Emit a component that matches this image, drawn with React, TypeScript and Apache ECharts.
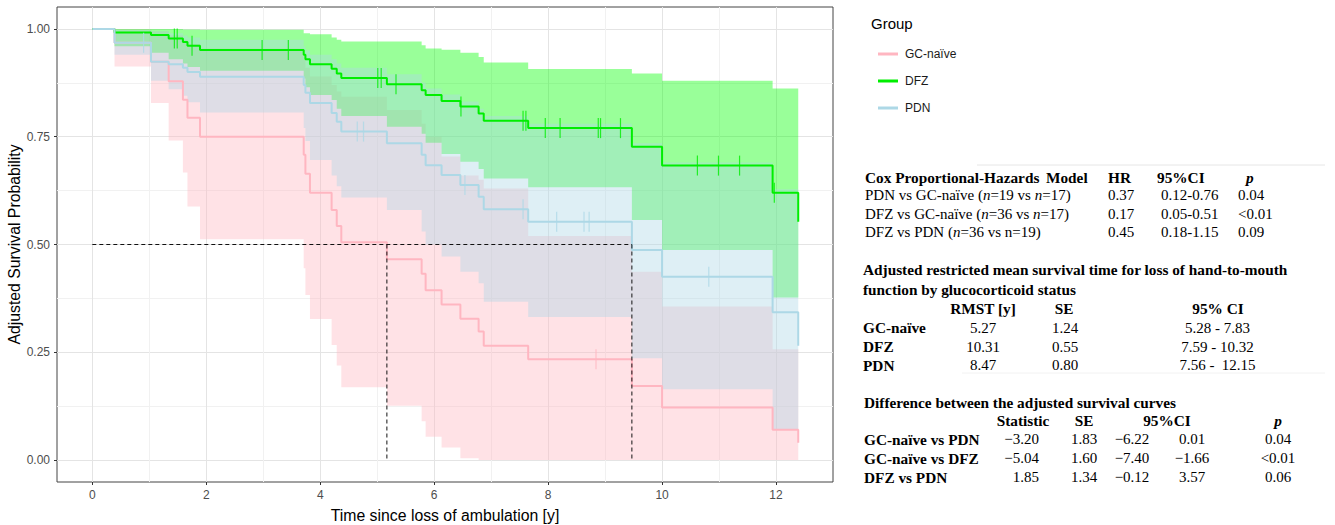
import React, { useEffect, useRef } from "react";
import * as echarts from "echarts";

// ---------- survival data (pooled event times) ----------
const times = [0, 0.39, 1.03, 1.34, 1.59, 1.67, 1.89, 3.71, 3.74, 3.82, 4.2, 4.29, 4.37, 5.17, 5.78, 5.85, 6.13, 6.46, 6.78, 6.87, 7.65, 9.47, 10.0, 11.94, 12.39];

const gcNaiveSurv = [1.0, 0.968, 0.924, 0.879, 0.836, 0.794, 0.75, 0.708, 0.664, 0.62, 0.58, 0.543, 0.505, 0.466, 0.432, 0.394, 0.361, 0.328, 0.298, 0.265, 0.234, 0.172, 0.122, 0.07, 0.04];
const gcNaiveLower = [1.0, 0.913, 0.828, 0.741, 0.667, 0.588, 0.512, 0.445, 0.383, 0.327, 0.267, 0.219, 0.169, 0.126, 0.09, 0.054, 0.029, 0.004, 0, 0, 0, 0, 0, 0, 0];
const gcNaiveUpper = [1.0, 1.0, 0.995, 0.985, 0.975, 0.965, 0.955, 0.93, 0.91, 0.89, 0.87, 0.855, 0.843, 0.812, 0.78, 0.75, 0.704, 0.66, 0.65, 0.63, 0.52, 0.437, 0.356, 0.257, 0.257];
const gcNaiveCensor = [8.84];

const dfzSurv = [1.0, 0.992, 0.986, 0.978, 0.97, 0.961, 0.951, 0.94, 0.93, 0.918, 0.908, 0.897, 0.886, 0.872, 0.858, 0.847, 0.833, 0.82, 0.804, 0.787, 0.77, 0.727, 0.683, 0.62, 0.553];
const dfzLower = [1.0, 0.96, 0.945, 0.93, 0.92, 0.912, 0.903, 0.885, 0.865, 0.847, 0.835, 0.815, 0.798, 0.773, 0.757, 0.736, 0.71, 0.692, 0.675, 0.653, 0.633, 0.557, 0.487, 0.377, 0.377];
const dfzUpper = [1.0, 1.0, 1.0, 1.0, 0.999, 0.999, 0.998, 0.99, 0.99, 0.988, 0.98, 0.975, 0.971, 0.971, 0.962, 0.955, 0.952, 0.945, 0.935, 0.922, 0.907, 0.897, 0.88, 0.862, 0.862];
const dfzCensor = [1.44, 1.49, 1.75, 2.98, 3.44, 5.01, 5.07, 5.33, 6.47, 7.56, 7.61, 7.95, 8.21, 8.88, 8.92, 9.27, 10.62, 10.99, 11.36, 11.97];

const pdnSurv = [1.0, 0.968, 0.924, 0.918, 0.91, 0.9, 0.889, 0.87, 0.852, 0.828, 0.805, 0.785, 0.762, 0.735, 0.708, 0.684, 0.661, 0.638, 0.611, 0.582, 0.553, 0.487, 0.425, 0.343, 0.265];
const pdnLower = [1.0, 0.94, 0.88, 0.86, 0.845, 0.83, 0.806, 0.77, 0.74, 0.696, 0.66, 0.635, 0.609, 0.58, 0.53, 0.5, 0.472, 0.437, 0.41, 0.367, 0.332, 0.236, 0.164, 0.07, 0.07];
const pdnUpper = [1.0, 0.998, 0.995, 0.99, 0.985, 0.98, 0.975, 0.96, 0.95, 0.94, 0.93, 0.92, 0.91, 0.895, 0.875, 0.862, 0.848, 0.832, 0.815, 0.798, 0.78, 0.735, 0.69, 0.628, 0.628];
const pdnCensor = [0.9, 4.65, 4.76, 6.54, 7.56, 8.15, 8.63, 8.72, 10.82];

const groupNames = ["GC-naïve", "DFZ", "PDN"];
const groupColors = ["#FFB6C1", "#00EE00", "#ADD8E6"];
const ribbonColors = ["#FFB6C1", "#00FF00", "#ADD8E6"];

// median reference lines
const medianLevel = 0.5;
const medianTimes = [5.17, 9.47];

// ---------- axis ticks ----------
const xTicks = [0, 2, 4, 6, 8, 10, 12];
const xMinorTicks = [1, 3, 5, 7, 9, 11];
const yTicks = [0, 0.25, 0.5, 0.75, 1.0];
const yMinorTicks = [0.125, 0.375, 0.625, 0.875];

// ---------- tables ----------
const coxHeader = ["Cox Proportional-Hazards", "Model", "HR", "95%CI", "p"];
const coxLabels = ["PDN vs GC-naïve ({i|n}=19 vs {i|n}=17)", "DFZ vs GC-naïve ({i|n}=36 vs {i|n}=17)", "DFZ vs PDN ({i|n}=36 vs n=19)"];
const coxHR = ["0.37", "0.17", "0.45"];
const coxCI = ["0.12-0.76", "0.05-0.51", "0.18-1.15"];
const coxP = ["0.04", "<0.01", "0.09"];

const rmstTitle = ["Adjusted restricted mean survival time for loss of hand-to-mouth", "function by glucocorticoid status"];
const rmstHeader = ["RMST [y]", "SE", "95% CI"];
const rmstGroups = ["GC-naïve", "DFZ", "PDN"];
const rmstValue = ["5.27", "10.31", "8.47"];
const rmstSE = ["1.24", "0.55", "0.80"];
const rmstCI = ["5.28 - 7.83", "7.59 - 10.32", "7.56 -  12.15"];

const diffTitle = "Difference between the adjusted survival curves";
const diffHeader = ["Statistic", "SE", "95%CI", "p"];
const diffLabels = ["GC-naïve vs PDN", "GC-naïve vs DFZ", "DFZ vs PDN"];
const diffStat = ["\u22123.20", "\u22125.04", "1.85"];
const diffSE = ["1.83", "1.60", "1.34"];
const diffLo = ["\u22126.22", "\u22127.40", "\u22120.12"];
const diffHi = ["0.01", "\u22121.66", "3.57"];
const diffP = ["0.04", "<0.01", "0.06"];

const SANS = '"Liberation Sans", Arial, Helvetica, sans-serif';
const SERIF = '"Liberation Serif", "Times New Roman", Times, serif';

function stepAt(ts: number[], vs: number[], t: number) {
  let v = vs[0];
  for (let i = 0; i < ts.length; i++) if (ts[i] <= t) v = vs[i];
  return v;
}

type TOpts = { align?: string; bold?: boolean; italic?: boolean; size?: number };
function txt(x: number, y: number, text: string, o: TOpts = {}) {
  const size = o.size ?? (o.bold ? 15.3 : 15);
  return {
    type: "text",
    x,
    y,
    silent: true,
    style: {
      text,
      fontFamily: SERIF,
      fontSize: size,
      fontWeight: o.bold ? "bold" : "normal",
      fontStyle: o.italic ? "italic" : "normal",
      fill: "#000",
      align: o.align ?? "left",
      verticalAlign: "middle",
      rich: {
        i: { fontFamily: SERIF, fontSize: size, fontStyle: "italic", fill: "#000", fontWeight: o.bold ? "bold" : "normal" },
      },
    },
  };
}

export default function App() {
  const ref = useRef<HTMLDivElement>(null);

  useEffect(() => {
    if (!ref.current) return;
    const chart = echarts.init(ref.current, null, { renderer: "svg" });

    const groups = [
      { est: gcNaiveSurv, lo: gcNaiveLower, hi: gcNaiveUpper, censor: gcNaiveCensor },
      { est: dfzSurv, lo: dfzLower, hi: dfzUpper, censor: dfzCensor },
      { est: pdnSurv, lo: pdnLower, hi: pdnUpper, censor: pdnCensor },
    ];

    const series: any[] = [];
    // confidence ribbons (step polygons through the axis scales)
    groups.forEach((g, k) => {
      series.push({
        type: "custom",
        name: groupNames[k] + " CI",
        silent: true,
        encode: { x: 0, y: [1, 2] },
        data: times.map((t, i) => [t, g.lo[i], g.hi[i]]),
        renderItem: (params: any, api: any) => {
          if (params.dataIndex !== 0) return null;
          const n = times.length;
          const pts: number[][] = [];
          for (let i = 0; i < n - 1; i++) {
            pts.push(api.coord([times[i], g.hi[i]]));
            pts.push(api.coord([times[i + 1], g.hi[i]]));
          }
          for (let i = n - 2; i >= 0; i--) {
            pts.push(api.coord([times[i + 1], g.lo[i]]));
            pts.push(api.coord([times[i], g.lo[i]]));
          }
          return {
            type: "polygon",
            silent: true,
            shape: { points: pts },
            style: { fill: ribbonColors[k], opacity: 0.4, stroke: null },
          };
        },
        z: 2,
      });
    });
    // curves
    groups.forEach((g, k) => {
      series.push({
        type: "line",
        name: groupNames[k],
        color: groupColors[k],
        step: "end",
        symbol: "none",
        silent: true,
        lineStyle: { color: groupColors[k], width: 2 },
        data: times.map((t, i) => [t, g.est[i]]),
        z: 3,
      });
    });
    // censor marks
    groups.forEach((g, k) => {
      series.push({
        type: "scatter",
        name: groupNames[k] + " censor",
        symbol: "rect",
        symbolSize: [1.2, 20],
        silent: true,
        itemStyle: { color: groupColors[k] },
        data: g.censor.map((t) => [t, stepAt(times, g.est, t)]),
        z: 4,
      });
    });
    // median dashed lines
    const dash = { color: "#111", width: 1, type: [4, 3] };
    series.push({
      type: "line",
      name: "median h",
      symbol: "none",
      silent: true,
      lineStyle: dash,
      data: [[0, medianLevel], [Math.max(...medianTimes), medianLevel]],
      z: 5,
    });
    medianTimes.forEach((m, i) => {
      series.push({
        type: "line",
        name: "median v" + i,
        symbol: "none",
        silent: true,
        lineStyle: dash,
        data: [[m, medianLevel], [m, 0]],
        z: 5,
      });
    });

    const graphics: any[] = [];
    // legend title
    graphics.push({
      type: "text",
      x: 871,
      y: 23,
      silent: true,
      style: { text: "Group", fontFamily: SANS, fontSize: 15, fill: "#000", align: "left", verticalAlign: "middle" },
    });
    // faint rules
    graphics.push({ type: "line", silent: true, shape: { x1: 977, y1: 165, x2: 1325, y2: 165 }, style: { stroke: "#e6e6e6", lineWidth: 1 } });
    graphics.push({ type: "line", silent: true, shape: { x1: 962, y1: 373, x2: 1325, y2: 373 }, style: { stroke: "#f2f2f2", lineWidth: 1 } });

    // table 1
    graphics.push(txt(865, 177, coxHeader[0], { bold: true }));
    graphics.push(txt(1046, 177, coxHeader[1], { bold: true }));
    graphics.push(txt(1108, 177, coxHeader[2], { bold: true }));
    graphics.push(txt(1157, 177, coxHeader[3], { bold: true }));
    graphics.push(txt(1246, 177, coxHeader[4], { bold: true, italic: true }));
    const coxY = [195, 213.5, 232];
    coxLabels.forEach((l, i) => {
      graphics.push(txt(865, coxY[i], l));
      graphics.push(txt(1108, coxY[i], coxHR[i]));
      graphics.push(txt(1161, coxY[i], coxCI[i]));
      graphics.push(txt(1238, coxY[i], coxP[i]));
    });

    // table 2
    graphics.push(txt(863, 269.5, rmstTitle[0], { bold: true }));
    graphics.push(txt(863, 289.5, rmstTitle[1], { bold: true }));
    const rmstX = [983, 1064, 1218];
    rmstHeader.forEach((h, i) => graphics.push(txt(rmstX[i], 308.5, h, { bold: true, align: "center" })));
    const rmstY = [327.5, 346.5, 365];
    rmstGroups.forEach((g, i) => {
      graphics.push(txt(863, rmstY[i], g, { bold: true }));
      graphics.push(txt(983, rmstY[i], rmstValue[i], { align: "center" }));
      graphics.push(txt(1065, rmstY[i], rmstSE[i], { align: "center" }));
      graphics.push(txt(1217.5, rmstY[i], rmstCI[i], { align: "center" }));
    });

    // table 3
    graphics.push(txt(864, 402, diffTitle, { bold: true }));
    graphics.push(txt(1023, 420, diffHeader[0], { bold: true, align: "center" }));
    graphics.push(txt(1084, 420, diffHeader[1], { bold: true, align: "center" }));
    graphics.push(txt(1167, 420, diffHeader[2], { bold: true, align: "center" }));
    graphics.push(txt(1278, 420, diffHeader[3], { bold: true, italic: true, align: "center" }));
    const diffY = [439, 458, 477];
    diffLabels.forEach((l, i) => {
      graphics.push(txt(864, diffY[i], l, { bold: true }));
      graphics.push(txt(1039, diffY[i], diffStat[i], { align: "right" }));
      graphics.push(txt(1084, diffY[i], diffSE[i], { align: "center" }));
      graphics.push(txt(1132, diffY[i], diffLo[i], { align: "center" }));
      graphics.push(txt(1192, diffY[i], diffHi[i], { align: "center" }));
      graphics.push(txt(1278, diffY[i], diffP[i], { align: "center" }));
    });

    const option: any = {
      animation: false,
      backgroundColor: "#ffffff",
      grid: {
        left: 57,
        top: 7,
        width: 776,
        height: 475,
        show: true,
        borderColor: "#444",
        borderWidth: 1,
        backgroundColor: "transparent",
        containLabel: false,
        outerBoundsMode: "none",
      },
      legend: {
        data: groupNames,
        orient: "vertical",
        left: 873,
        top: 43,
        itemWidth: 20,
        itemHeight: 3,
        itemGap: 15,
        icon: "rect",
        textStyle: { fontSize: 12, fontFamily: SANS, color: "#1a1a1a", padding: [0, 0, 0, 2] },
      },
      xAxis: [
        {
          type: "value",
          min: -0.62,
          max: 13.0,
          position: "bottom",
          axisLine: { show: false, onZero: false },
          axisTick: { show: true, length: 3, customValues: xTicks, lineStyle: { color: "#333" } },
          axisLabel: { customValues: xTicks, color: "#4d4d4d", fontSize: 12, fontFamily: SANS, margin: 7, formatter: (v: number) => String(v) },
          splitLine: { show: true, lineStyle: { color: "#e4e4e4", width: 1 } },
          name: "Time since loss of ambulation [y]",
          nameLocation: "middle",
          nameGap: 25,
          nameMoveOverlap: false,
          nameTextStyle: { fontSize: 15.8, color: "#000", fontFamily: SANS },
        },
        {
          type: "value",
          min: -0.62,
          max: 13.0,
          position: "top",
          axisLine: { show: false, onZero: false },
          axisTick: { show: false, customValues: xMinorTicks },
          axisLabel: { show: false, customValues: xMinorTicks },
          splitLine: { show: true, lineStyle: { color: "#f1f1f1", width: 1 } },
        },
      ],
      yAxis: [
        {
          type: "value",
          min: -0.051,
          max: 1.051,
          position: "left",
          axisLine: { show: false, onZero: false },
          axisTick: { show: true, length: 3, customValues: yTicks, lineStyle: { color: "#333" } },
          axisLabel: { customValues: yTicks, color: "#4d4d4d", fontSize: 12, fontFamily: SANS, margin: 7, formatter: (v: number) => v.toFixed(2) },
          splitLine: { show: true, lineStyle: { color: "#e4e4e4", width: 1 } },
          name: "Adjusted Survival Probability",
          nameLocation: "middle",
          nameGap: 35,
          nameMoveOverlap: false,
          nameTextStyle: { fontSize: 15.8, color: "#000", fontFamily: SANS },
        },
        {
          type: "value",
          min: -0.051,
          max: 1.051,
          position: "right",
          axisLine: { show: false, onZero: false },
          axisTick: { show: false, customValues: yMinorTicks },
          axisLabel: { show: false, customValues: yMinorTicks },
          splitLine: { show: true, lineStyle: { color: "#f1f1f1", width: 1 } },
        },
      ],
      series,
      graphic: { elements: graphics },
    };

    chart.setOption(option);
    return () => chart.dispose();
  }, []);

  return <div ref={ref} style={{ position: "absolute", left: 0, top: 0, width: 1335, height: 525 }} />;
}
